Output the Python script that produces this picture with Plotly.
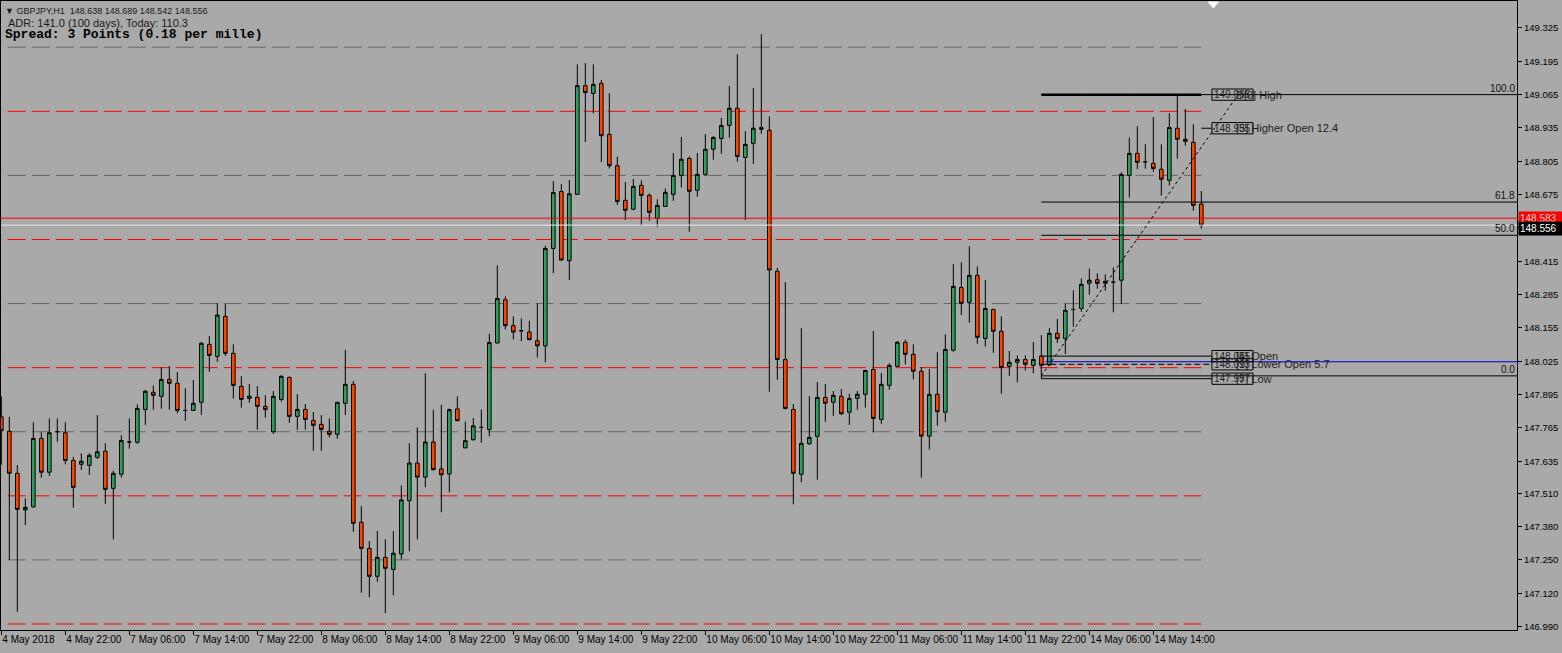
import plotly.graph_objects as go

# GBPJPY H1, bar 0 = 4 May 2018 14:00, last bar = 14 May 2018 20:00
opens = [147.808, 147.752, 147.588, 147.445, 147.457, 147.724, 147.592, 147.750, 147.746, 147.638,
         147.623, 147.619, 147.650, 147.674, 147.529, 147.584, 147.710, 147.709, 147.837, 147.904,
         147.888, 147.954, 147.939, 147.833, 147.833, 147.865, 148.091, 148.044, 148.200, 148.056,
         147.927, 147.880, 147.884, 147.849, 147.750, 147.876, 147.962, 147.810, 147.837, 147.794,
         147.779, 147.752, 147.740, 147.861, 147.935, 147.397, 147.295, 147.186, 147.260, 147.213,
         147.273, 147.481, 147.628, 147.573, 147.710, 147.605, 147.585, 147.839, 147.687, 147.719,
         147.767, 147.759, 148.096, 148.265, 148.164, 148.144, 148.139, 148.105, 148.085, 148.465,
         148.687, 148.417, 148.676, 149.100, 149.070, 149.109, 148.910, 148.788, 148.653, 148.618,
         148.711, 148.672, 148.582, 148.629, 148.676, 148.750, 148.816, 148.692, 148.754, 148.852,
         148.894, 148.945, 149.012, 148.820, 148.875, 148.937, 148.926, 148.376, 148.032, 147.837,
         147.584, 147.703, 147.732, 147.884, 147.865, 147.888, 147.826, 147.880, 147.896, 147.993,
         147.798, 147.931, 148.005, 148.099, 148.052, 147.986, 147.733, 147.896, 147.826, 148.068,
         148.313, 148.255, 148.360, 148.114, 148.227, 148.142, 148.005, 148.021, 148.032, 148.009,
         148.045, 148.011, 148.134, 148.114, 148.227, 148.231, 148.329, 148.343, 148.329, 148.334,
         148.341, 148.750, 148.836, 148.803, 148.797, 148.774, 148.731, 148.934, 148.891, 148.879,
         148.638]
highs = [147.887, 147.808, 147.620, 147.490, 147.787, 147.748, 147.802, 147.802, 147.787, 147.652,
         147.666, 147.666, 147.815, 147.705, 147.598, 147.737, 147.802, 147.857, 147.913, 147.931,
         148.001, 148.006, 147.983, 147.920, 147.952, 148.100, 148.123, 148.252, 148.248, 148.091,
         147.967, 147.936, 147.928, 147.893, 147.909, 147.971, 147.966, 147.897, 147.858, 147.827,
         147.815, 147.802, 147.865, 148.069, 147.948, 147.460, 147.324, 147.363, 147.331, 147.363,
         147.540, 147.705, 147.767, 147.978, 147.836, 147.855, 147.840, 147.888, 147.790, 147.804,
         147.836, 148.132, 148.399, 148.278, 148.200, 148.192, 148.183, 148.251, 148.476, 148.728,
         148.716, 148.732, 149.183, 149.188, 149.183, 149.122, 149.071, 148.823, 148.724, 148.736,
         148.731, 148.680, 148.657, 148.699, 148.837, 148.900, 148.824, 148.837, 148.911, 148.903,
         148.974, 149.099, 149.223, 148.923, 149.091, 149.301, 148.980, 148.389, 148.334, 147.858,
         148.154, 147.889, 147.944, 147.936, 147.909, 147.917, 147.898, 147.909, 147.992, 148.143,
         147.979, 148.017, 148.104, 148.109, 148.091, 148.002, 147.995, 148.060, 148.130, 148.404,
         148.411, 148.474, 148.395, 148.342, 148.231, 148.200, 148.065, 148.048, 148.048, 148.100,
         148.127, 148.154, 148.190, 148.249, 148.302, 148.348, 148.387, 148.368, 148.364, 148.391,
         148.762, 148.898, 148.942, 148.872, 148.978, 148.871, 148.993, 149.065, 149.009, 148.950,
         148.689]
lows = [147.620, 147.250, 147.048, 147.386, 147.454, 147.571, 147.578, 147.711, 147.623, 147.454,
        147.601, 147.581, 147.644, 147.469, 147.330, 147.571, 147.684, 147.703, 147.777, 147.836,
        147.840, 147.836, 147.822, 147.793, 147.833, 147.816, 147.984, 148.023, 148.046, 147.879,
        147.844, 147.863, 147.758, 147.805, 147.742, 147.867, 147.785, 147.757, 147.758, 147.676,
        147.676, 147.728, 147.723, 147.816, 147.360, 147.122, 147.104, 147.165, 147.042, 147.112,
        147.252, 147.284, 147.330, 147.534, 147.599, 147.436, 147.514, 147.793, 147.687, 147.715,
        147.707, 147.732, 148.096, 148.149, 148.110, 148.103, 148.109, 148.040, 148.021, 148.368,
        148.417, 148.342, 148.676, 148.880, 148.992, 148.802, 148.777, 148.635, 148.576, 148.614,
        148.554, 148.573, 148.550, 148.629, 148.651, 148.702, 148.530, 148.667, 148.750, 148.811,
        148.834, 148.897, 148.803, 148.577, 148.795, 148.912, 147.906, 147.953, 147.837, 147.467,
        147.553, 147.699, 147.563, 147.789, 147.812, 147.816, 147.777, 147.836, 147.844, 147.748,
        147.781, 147.914, 148.004, 148.013, 147.954, 147.571, 147.681, 147.773, 147.789, 148.062,
        148.205, 148.175, 148.093, 148.082, 148.058, 147.898, 147.968, 147.943, 147.989, 147.978,
        147.957, 148.007, 148.096, 148.053, 148.160, 148.218, 148.284, 148.308, 148.300, 148.216,
        148.249, 148.664, 148.774, 148.776, 148.764, 148.671, 148.711, 148.815, 148.866, 148.612,
        148.542]
closes = [147.754, 147.588, 147.447, 147.455, 147.724, 147.592, 147.746, 147.750, 147.638, 147.533,
          147.635, 147.658, 147.672, 147.525, 147.588, 147.716, 147.710, 147.841, 147.908, 147.892,
          147.954, 147.939, 147.833, 147.833, 147.861, 148.095, 148.048, 148.205, 148.056, 147.931,
          147.876, 147.889, 147.849, 147.837, 147.888, 147.966, 147.810, 147.837, 147.798, 147.775,
          147.759, 147.740, 147.865, 147.935, 147.393, 147.295, 147.186, 147.260, 147.217, 147.276,
          147.484, 147.628, 147.573, 147.710, 147.602, 147.582, 147.836, 147.793, 147.715, 147.773,
          147.767, 148.098, 148.270, 148.164, 148.139, 148.144, 148.109, 148.085, 148.465, 148.683,
          148.420, 148.678, 149.100, 149.073, 149.105, 148.905, 148.788, 148.648, 148.614, 148.707,
          148.672, 148.606, 148.633, 148.684, 148.750, 148.813, 148.688, 148.754, 148.852, 148.898,
          148.945, 149.012, 148.824, 148.871, 148.934, 148.930, 148.381, 148.032, 147.841, 147.588,
          147.705, 147.728, 147.884, 147.861, 147.892, 147.820, 147.880, 147.896, 147.989, 147.802,
          147.935, 148.009, 148.099, 148.052, 147.986, 147.733, 147.896, 147.828, 148.071, 148.317,
          148.251, 148.360, 148.118, 148.231, 148.142, 148.001, 148.021, 148.032, 148.013, 148.032,
          148.009, 148.134, 148.113, 148.224, 148.227, 148.325, 148.341, 148.329, 148.337, 148.334,
          148.754, 148.836, 148.801, 148.803, 148.777, 148.735, 148.937, 148.891, 148.883, 148.633,
          148.556]

time_ticks = [0, 8, 16, 24, 32, 40, 48, 56, 64, 72, 80, 88, 96, 104, 112, 120, 128, 136, 144]
time_labels = ['4 May 2018', '4 May 22:00', '7 May 06:00', '7 May 14:00', '7 May 22:00',
               '8 May 06:00', '8 May 14:00', '8 May 22:00', '9 May 06:00', '9 May 14:00',
               '9 May 22:00', '10 May 06:00', '10 May 14:00', '10 May 22:00', '11 May 06:00',
               '11 May 14:00', '11 May 22:00', '14 May 06:00', '14 May 14:00']
price_ticks = [149.325, 149.195, 149.065, 148.935, 148.805, 148.675, 148.545, 148.415, 148.285,
               148.155, 148.025, 147.895, 147.765, 147.635, 147.510, 147.380, 147.250, 147.120, 146.990]

quarter_levels = [149.25, 148.75, 148.25, 147.75, 147.25]
half_levels = [149.0, 148.5, 148.0, 147.5, 147.0]

ask_price = 148.583
bid_price = 148.556

fib_start_bar, fib_end_bar = 130, 154.6
fib_low, fib_high = 147.968, 149.065
fib_ratios = [100.0, 61.8, 50.0, 0.0]

day_open_line = 148.023
day_names = ['High', 'Higher Open', 'Open', 'Lower Open', 'Low']
day_prices = [149.065, 148.934, 148.045, 148.013, 147.957]
day_box_text = ['149.065', '148.935', '148.045', '148.013', '147.957']
day_tags = ['D[0] High', '[5] Higher Open 12.4', '[5] Open', '[9] Lower Open 5.7', '[7] Low']

FONT = 'Liberation Sans'
x = list(range(len(opens)))
last_bar = x[-1]
x_end = 189.46

fig = go.Figure()
fig.add_trace(go.Candlestick(
    x=x, open=opens, high=highs, low=lows, close=closes,
    increasing=dict(fillcolor='#2e9f5c', line=dict(color='black', width=1)),
    decreasing=dict(fillcolor='#ff4500', line=dict(color='black', width=1)),
    whiskerwidth=0, hoverinfo='skip'))

shapes = []
# round-number levels
for lv in quarter_levels:
    shapes.append(dict(type='line', xref='x', yref='y', x0=0.8, x1=last_bar, y0=lv, y1=lv,
                       layer='below', line=dict(color='#666666', width=1, dash='18px,6px')))
for lv in half_levels:
    shapes.append(dict(type='line', xref='x', yref='y', x0=0.8, x1=last_bar, y0=lv, y1=lv,
                       layer='below', line=dict(color='#ff0000', width=1, dash='18px,6px')))

# ask / bid
shapes.append(dict(type='line', xref='x', yref='y', x0=-0.04, x1=x_end, y0=ask_price, y1=ask_price,
                   line=dict(color='#ff0000', width=1)))
shapes.append(dict(type='line', xref='x', yref='y', x0=-0.04, x1=x_end, y0=bid_price, y1=bid_price,
                   line=dict(color='#e8e8e8', width=1)))

# fibonacci
for r in fib_ratios:
    lv = fib_low + (fib_high - fib_low) * r / 100
    shapes.append(dict(type='line', xref='x', yref='y', x0=fib_start_bar, x1=x_end, y0=lv, y1=lv,
                       line=dict(color='black', width=1)))
shapes.append(dict(type='line', xref='x', yref='y', x0=fib_start_bar, x1=fib_end_bar,
                   y0=fib_low, y1=fib_high, line=dict(color='black', width=1, dash='dot')))
shapes.append(dict(type='line', xref='x', yref='y', x0=fib_start_bar + 0.5, x1=x_end,
                   y0=day_open_line, y1=day_open_line, line=dict(color='#0000cc', width=1)))

# day levels indicator
box_x0, box_x1 = 151.33, 156.46
shapes.append(dict(type='line', xref='x', yref='y', x0=fib_start_bar, x1=last_bar,
                   y0=day_prices[0], y1=day_prices[0], line=dict(color='black', width=2.5)))
shapes.append(dict(type='line', xref='x', yref='y', x0=last_bar, x1=box_x0,
                   y0=day_prices[1], y1=day_prices[1], line=dict(color='black', width=1)))
for p, d in zip(day_prices[2:], ['solid', '6px,3px', 'solid']):
    shapes.append(dict(type='line', xref='x', yref='y', x0=fib_start_bar, x1=box_x0,
                       y0=p, y1=p, line=dict(color='black', width=1, dash=d)))
for p in day_prices:
    shapes.append(dict(type='rect', xref='x', yref='y', x0=box_x0, x1=box_x1,
                       y0=p - 0.022, y1=p + 0.022, line=dict(color='black', width=1)))

# chart shift marker
shapes.append(dict(type='path', xref='x', yref='paper', xsizemode='pixel', ysizemode='pixel',
                   xanchor=151.5, yanchor=1, path='M -5,-1 L 5,-1 L 0,-7 Z',
                   fillcolor='white', line=dict(color='white', width=1)))

ann = []
for r in fib_ratios:
    lv = fib_low + (fib_high - fib_low) * r / 100
    ann.append(dict(xref='paper', yref='y', x=1, y=lv, xanchor='right', yanchor='bottom',
                    xshift=-1, text=f'{r:.1f}', showarrow=False, borderpad=0,
                    font=dict(family=FONT, size=10, color='#111111')))
for p, bt, tag in zip(day_prices, day_box_text, day_tags):
    ann.append(dict(xref='x', yref='y', x=box_x0, y=p, xanchor='left', yanchor='middle',
                    xshift=1, text=bt, showarrow=False, borderpad=0,
                    font=dict(family=FONT, size=10, color='#1e1e1e')))
    ann.append(dict(xref='x', yref='y', x=box_x0, y=p, xanchor='left', yanchor='middle',
                    xshift=23, text=tag, showarrow=False, borderpad=0,
                    font=dict(family=FONT, size=11, color='#1e1e1e')))

ann.append(dict(xref='paper', yref='y', x=1, y=ask_price, xanchor='left', yanchor='middle',
                xshift=1, text=f'{ask_price:.3f}', showarrow=False, bgcolor='#ff0000',
                width=44, align='left', borderpad=1,
                font=dict(family=FONT, size=10, color='#ffd0d0')))
ann.append(dict(xref='paper', yref='y', x=1, y=bid_price, xanchor='left', yanchor='top',
                xshift=1, yshift=4, text=f'{bid_price:.3f}', showarrow=False, bgcolor='#000000',
                width=44, align='left', borderpad=1,
                font=dict(family=FONT, size=10, color='#ffffff')))

ann.append(dict(xref='paper', yref='paper', x=0, y=1, xanchor='left', yanchor='top',
                xshift=2, yshift=-3, showarrow=False,
                text='▼ GBPJPY,H1  148.638 148.689 148.542 148.556',
                font=dict(family=FONT, size=9, color='#1a1a1a')))
ann.append(dict(xref='paper', yref='paper', x=0, y=1, xanchor='left', yanchor='top',
                xshift=5, yshift=-14, showarrow=False,
                text='ADR: 141.0 (100 days), Today: 110.3',
                font=dict(family=FONT, size=11, color='#1a1a1a')))
ann.append(dict(xref='paper', yref='paper', x=0, y=1, xanchor='left', yanchor='top',
                xshift=2, yshift=-24, showarrow=False,
                text='<b>Spread: 3 Points (0.18 per mille)</b>',
                font=dict(family='Liberation Mono', size=13, color='#000000')))

fig.update_layout(
    width=1562, height=653,
    paper_bgcolor='#a9a9a9', plot_bgcolor='#a9a9a9',
    margin=dict(l=1, r=45, t=1, b=23, autoexpand=False),
    showlegend=False, boxgap=0.36,
    shapes=shapes, annotations=ann,
    xaxis=dict(range=[-0.04, x_end], tickvals=time_ticks, ticktext=time_labels,
               ticks='outside', ticklen=4, tickcolor='black', ticklabelposition='outside right',
               tickangle=0, automargin=False,
               showline=True, linecolor='black', linewidth=1, mirror=True,
               showgrid=False, zeroline=False, rangeslider=dict(visible=False),
               tickfont=dict(family=FONT, size=10, color='black')),
    yaxis=dict(range=[146.9766, 149.4303], side='right', tickvals=price_ticks,
               ticktext=[f'{v:.3f}' for v in price_ticks], automargin=False,
               ticks='outside', ticklen=4, tickcolor='black',
               showline=True, linecolor='black', linewidth=1, mirror=True,
               showgrid=False, zeroline=False,
               tickfont=dict(family=FONT, size=9.5, color='black')),
)

# page has a default 8px body margin; drop it so the chart sits at the window corner
fig.write_html("out.html", config={'displayModeBar': False},
               post_script="document.body.style.margin='0px';")
